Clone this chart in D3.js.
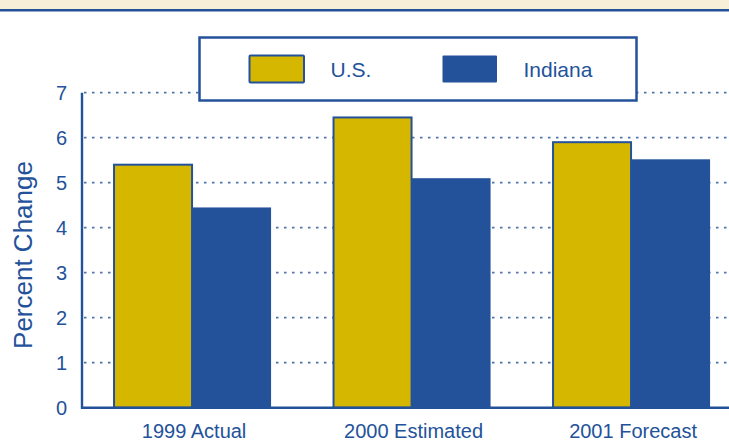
<!DOCTYPE html>
<html>
<head>
<meta charset="utf-8">
<script src="https://cdn.jsdelivr.net/npm/d3@7"></script>
<style>
  html, body { margin: 0; padding: 0; background: #fff; }
  svg { display: block; }
  text { font-family: "Liberation Sans", Arial, Helvetica, sans-serif; fill: #23529A; }
</style>
</head>
<body>
<svg id="chart" width="729" height="442"></svg>
<script>
const categories = ["1999 Actual", "2000 Estimated", "2001 Forecast"];
const seriesNames = ["U.S.", "Indiana"];
const usValues = [5.4, 6.45, 5.9];
const indianaValues = [4.45, 5.1, 5.52];
const yTicks = [0, 1, 2, 3, 4, 5, 6, 7];

const BLUE = "#23529A";
const GOLD = "#D6B700";
const CREAM = "#F8EFD8";

const svg = d3.select("#chart");

// top banner
svg.append("rect").attr("x", 0).attr("y", 0).attr("width", 729).attr("height", 9.5).attr("fill", CREAM);
svg.append("rect").attr("x", 0).attr("y", 9).attr("width", 729).attr("height", 2.5).attr("fill", BLUE);

const x = d3.scaleBand().domain(categories).range([82.3, 740.8]).paddingInner(0.28).paddingOuter(0.14);
const x1 = d3.scaleBand().domain(seriesNames).range([0, x.bandwidth()]);
const y = d3.scaleLinear().domain([0, 7]).range([407.7, 92.7]);

// gridlines
svg.append("g").selectAll("line").data(yTicks.filter(d => d > 0)).join("line")
  .attr("x1", 84).attr("x2", 729)
  .attr("y1", d => y(d)).attr("y2", d => y(d))
  .attr("stroke", BLUE).attr("stroke-width", 1.7)
  .attr("stroke-dasharray", "2.5,5.5").attr("opacity", 0.8);

// legend box (drawn over gridline at 7)
const lg = svg.append("g");
lg.append("rect").attr("x", 199.5).attr("y", 37.5).attr("width", 437).attr("height", 63)
  .attr("fill", "#fff").attr("stroke", BLUE).attr("stroke-width", 2.5);
const legendItems = [
  { name: seriesNames[0], sx: 249.5, tx: 330.5, fill: GOLD, stroke: BLUE },
  { name: seriesNames[1], sx: 442.5, tx: 523.5, fill: BLUE, stroke: "none" }
];
legendItems.forEach(it => {
  lg.append("rect").attr("x", it.sx).attr("y", 55.5).attr("width", 54.5).attr("height", 27)
    .attr("fill", it.fill).attr("stroke", it.stroke).attr("stroke-width", 2).attr("rx", 1);
  lg.append("text").attr("x", it.tx).attr("y", 76.5).attr("font-size", 21).text(it.name);
});

// bars
const data = categories.map((c, i) => ({ cat: c, vals: [
  { s: seriesNames[0], v: usValues[i] },
  { s: seriesNames[1], v: indianaValues[i] }
]}));

const groups = svg.append("g").selectAll("g").data(data).join("g")
  .attr("transform", d => `translate(${x(d.cat)},0)`);

groups.append("rect")
  .attr("x", x1(seriesNames[1]))
  .attr("y", d => y(d.vals[1].v))
  .attr("width", x1.bandwidth())
  .attr("height", d => y(0) - y(d.vals[1].v))
  .attr("fill", BLUE);
groups.append("rect")
  .attr("x", x1(seriesNames[0]) + 1)
  .attr("y", d => y(d.vals[0].v))
  .attr("width", x1.bandwidth() - 1)
  .attr("height", d => y(0) - y(d.vals[0].v))
  .attr("fill", GOLD).attr("stroke", BLUE).attr("stroke-width", 2);

// axes lines
svg.append("line").attr("x1", 82).attr("x2", 82).attr("y1", y(7)).attr("y2", y(0) + 1)
  .attr("stroke", BLUE).attr("stroke-width", 2.4);
svg.append("line").attr("x1", 81).attr("x2", 729).attr("y1", y(0)).attr("y2", y(0))
  .attr("stroke", BLUE).attr("stroke-width", 2.4);

// y tick labels
const yAxis = d3.axisLeft(y).tickValues(yTicks).tickSize(0).tickPadding(0).tickFormat(d3.format("d"));
const ya = svg.append("g").attr("transform", "translate(67,0)").call(yAxis);
ya.select(".domain").remove();
ya.selectAll("text").attr("font-size", 20).attr("fill", BLUE)
  .style("font-family", '"Liberation Sans", Arial, sans-serif').attr("dy", "0.35em");

// x category labels
const xAxis = d3.axisBottom(x).tickSize(0).tickPadding(0);
const xa = svg.append("g").attr("transform", "translate(2,423.5)").call(xAxis);
xa.select(".domain").remove();
xa.selectAll("text").attr("font-size", 20).attr("fill", BLUE)
  .style("font-family", '"Liberation Sans", Arial, sans-serif').attr("dy", "0.71em");

// y axis title
svg.append("text")
  .attr("transform", "translate(32,255) rotate(-90)")
  .attr("text-anchor", "middle").attr("font-size", 26)
  .text("Percent Change");
</script>
</body>
</html>
